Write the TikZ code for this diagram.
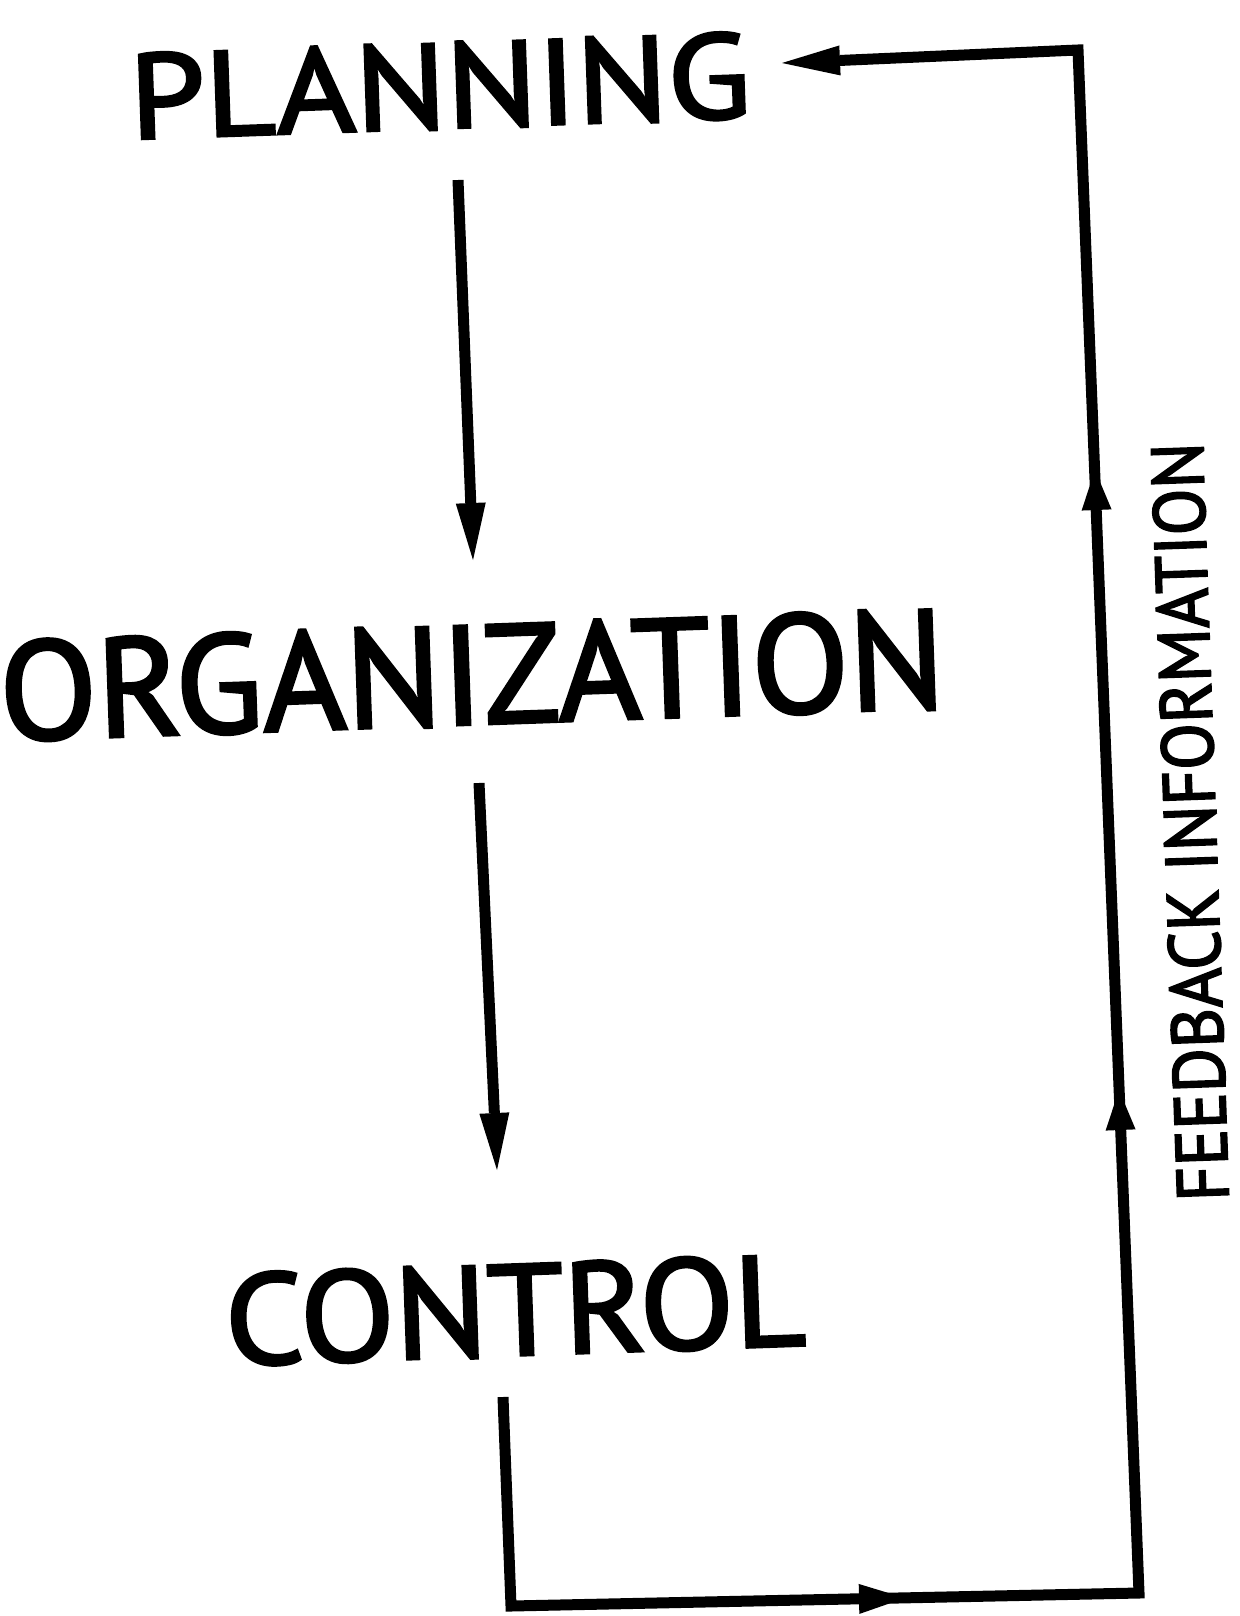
\documentclass[tikz,border=0pt]{standalone}
\usepackage{graphicx}
\usepackage{fontspec}
\setmainfont{PT Sans}
\newfontfamily\labfont{PT Sans}[FakeBold=2.5]
\usetikzlibrary{calc}
\tikzset{
  conn/.style={line width=5.5pt, black, line join=miter, line cap=butt},
  label/.style={inner sep=0pt, outer sep=0pt, anchor=center, rotate=2, font=\labfont},
}
% #1 from, #2 tip, #3 length, #4 half width, #5 name of base point
\newcommand{\ahead}[5]{%
  \coordinate (#5) at ($(#2)!#3!(#1)$);
  \fill ($(#5)!#4!90:(#2)$) -- (#2) -- ($(#5)!#4!-90:(#2)$) -- cycle;}
\begin{document}
\begin{tikzpicture}[x=0.5pt,y=-0.5pt]
\useasboundingbox (0,0) rectangle (1240,1616);
\fill[white] (0,0) rectangle (1240,1616);
% texts
\node[label] (plan) at (440,86) {\resizebox{310.5pt}{43pt}{PLANNING}};
\node[label] (org) at (472,675) {\resizebox{472.5pt}{50pt}{ORGANIZATION}};
\node[label] (ctl) at (515,1310) {\resizebox{290pt}{46pt}{CONTROL}};
\node[inner sep=0pt, rotate=92, font=\labfont] (fb) at (1190,822) {\resizebox{379.5pt}{26pt}{FEEDBACK INFORMATION}};
% coordinates
\coordinate (a1s) at (458,180);
\coordinate (a1e) at (473,560);
\coordinate (a2s) at (479,783);
\coordinate (a2e) at (497,1170);
\coordinate (c0) at (503,1397);
\coordinate (bl) at (511,1606);
\coordinate (bm) at (905,1598);
\coordinate (br) at (1139,1593);
\coordinate (r1) at (1119,1090);
\coordinate (r2) at (1095,470);
\coordinate (tr) at (1078,50);
\coordinate (tt) at (782,63);
% arrow heads
\ahead{a1s}{a1e}{28.5pt}{7.5pt}{a1b}
\ahead{a2s}{a2e}{28.5pt}{7.5pt}{a2b}
\ahead{bl}{bm}{23pt}{7.5pt}{bmb}
\ahead{br}{r1}{20pt}{7.5pt}{r1b}
\ahead{br}{r2}{20pt}{7.5pt}{r2b}
\ahead{tr}{tt}{29pt}{7.5pt}{ttb}
% connectors
\draw[conn] (a1s) -- (a1b);
\draw[conn] (a2s) -- (a2b);
\draw[conn] (c0) -- (bl) -- (br) -- (tr) -- (ttb);
\end{tikzpicture}
\end{document}
